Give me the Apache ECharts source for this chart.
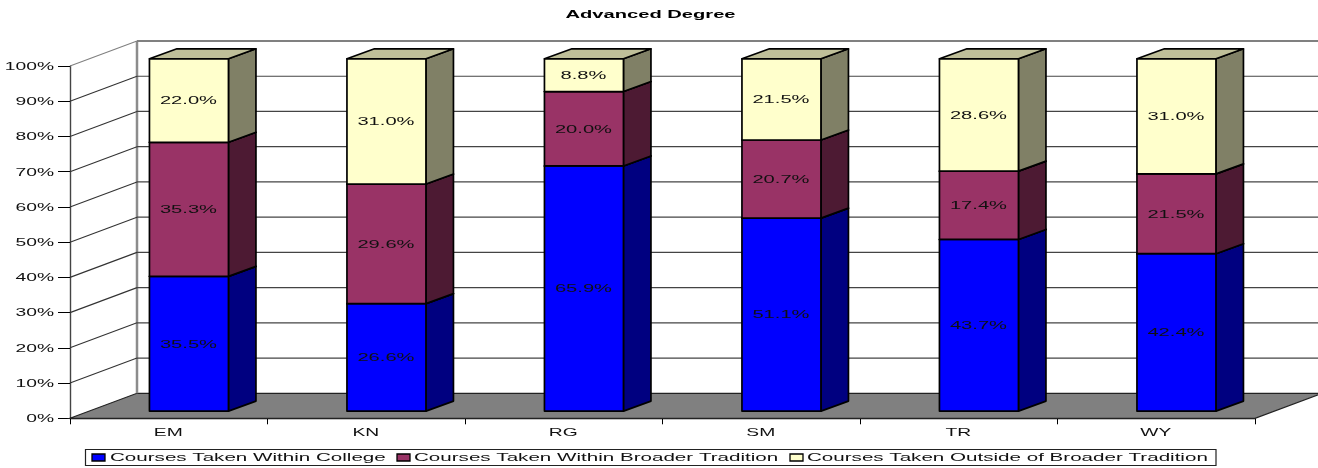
<!DOCTYPE html>
<html>
<head>
<meta charset="utf-8">
<style>html,body{margin:0;padding:0;background:#fff}#c{width:1318px;height:468px}</style>
<script src="https://cdn.jsdelivr.net/npm/echarts@6/dist/echarts.min.js"></script>
</head>
<body>
<div id="c"></div>
<script>
const categories = ['EM', 'KN', 'RG', 'SM', 'TR', 'WY'];
const withinCollege = [35.5, 26.6, 65.9, 51.1, 43.7, 42.4];
const withinBroader = [35.3, 29.6, 20.0, 20.7, 17.4, 21.5];
const outsideBroader = [22.0, 31.0, 8.8, 21.5, 28.6, 31.0];
const seriesNames = ['Courses Taken Within College', 'Courses Taken Within Broader Tradition', 'Courses Taken Outside of Broader Tradition'];
const yTickValues = [0, 10, 20, 30, 40, 50, 60, 70, 80, 90, 100];
const yTickLabels = ['0%', '10%', '20%', '30%', '40%', '50%', '60%', '70%', '80%', '90%', '100%'];
const titleText = 'Advanced Degree';

const FONT = '"Liberation Sans", Arial, sans-serif';
const STRETCH = 1.75;
const DEPTH = [67, -25];
const BAR_FRONT = [20.2, -7.2];
const BAR_SIDE = [27.5, -10];
const BAR_WIDTH = 79;
const LINE = '#000';
const palette = [
  { front: '#0000FF', side: '#000080', top: '#00008C' },
  { front: '#993366', side: '#4D1A33', top: '#6B2447' },
  { front: '#FFFFCC', side: '#808066', top: '#BFBF99' }
];

const allValues = [withinCollege, withinBroader, outsideBroader];
function stackedRows(s) {
  return categories.map((_, i) => {
    const total = allValues.reduce((a, arr) => a + arr[i], 0);
    let start = 0;
    for (let k = 0; k < s; k++) start += allValues[k][i];
    return [i, start / total * 100, (start + allValues[s][i]) / total * 100];
  });
}

function stretchedText(text, x, y, size, align, weight) {
  return {
    type: 'text', x, y, scaleX: STRETCH, silent: true,
    style: {
      text, x: 0, y: 0, align, verticalAlign: 'middle', fill: '#111',
      font: (weight || 'normal') + ' ' + size + 'px ' + FONT
    }
  };
}

function poly(points, fill) {
  return { type: 'polygon', shape: { points }, style: { fill, stroke: LINE, lineWidth: 1.7, lineJoin: 'round' } };
}

function renderBar(s) {
  return function (params, api) {
    const a = api.coord([api.value(0), api.value(1)]);
    const b = api.coord([api.value(0), api.value(2)]);
    const cx = a[0] + BAR_FRONT[0];
    const l = cx - BAR_WIDTH / 2, r = cx + BAR_WIDTH / 2;
    const yb = a[1] + BAR_FRONT[1], yt = b[1] + BAR_FRONT[1];
    const dx = BAR_SIDE[0], dy = BAR_SIDE[1];
    const c = palette[s];
    const children = [
      poly([[r, yb], [r + dx, yb + dy], [r + dx, yt + dy], [r, yt]], c.side),
      poly([[l, yt], [r, yt], [r + dx, yt + dy], [l + dx, yt + dy]], c.top),
      poly([[l, yb], [r, yb], [r, yt], [l, yt]], c.front),
      stretchedText(allValues[s][params.dataIndex].toFixed(1) + '%', cx - 0.5, (yb + yt) / 2 + 0.7, 11.5, 'center')
    ];
    return { type: 'group', children };
  };
}

function renderFloor(params) {
  const g = params.coordSys;
  const x0 = g.x, x1 = g.x + g.width, y = g.y + g.height;
  const top = g.y;
  return {
    type: 'group',
    children: [
      { type: 'polygon', shape: { points: [[x0, y], [x0 + DEPTH[0], y + DEPTH[1]], [x1 + DEPTH[0], y + DEPTH[1]], [x1, y]] },
        style: { fill: '#808080', stroke: '#222', lineWidth: 1.2 } },
      { type: 'line', shape: { x1: x0 + DEPTH[0], y1: y + DEPTH[1], x2: x0 + DEPTH[0], y2: top + DEPTH[1] },
        style: { stroke: '#8c8c8c', lineWidth: 2.5 } }
    ]
  };
}

function renderGridLine(params, api) {
  const v = api.value(0);
  if (v === 0) return null;
  const g = params.coordSys;
  const y = api.coord([0, v])[1];
  const stroke = v === 100 ? '#808080' : '#444';
  const w = v === 100 ? 2.2 : 1.2;
  return {
    type: 'group',
    children: [
      { type: 'line', shape: { x1: g.x + DEPTH[0], y1: y + DEPTH[1], x2: g.x + g.width + DEPTH[0], y2: y + DEPTH[1] }, style: { stroke, lineWidth: w } },
      { type: 'line', shape: { x1: g.x, y1: y, x2: g.x + DEPTH[0], y2: y + DEPTH[1] }, style: { stroke: v === 100 ? '#808080' : '#333', lineWidth: 1.1 } }
    ]
  };
}

function renderYLabel(params, api) {
  const y = api.coord([0, api.value(0)])[1];
  return stretchedText(yTickLabels[params.dataIndex], params.coordSys.x - 16, y + 0.8, 11, 'right');
}
function renderXLabel(params, api) {
  const p = api.coord([api.value(0), 0]);
  return stretchedText(categories[params.dataIndex], p[0] - 0.5, p[1] + 14.3, 11, 'center');
}

const legendSwatchX = [92, 397, 790];
const legendTextX = [110, 414, 807];
const legendStretch = 1.79;
const legendElements = [
  { type: 'rect', shape: { x: 85.5, y: 449.5, width: 1130.5, height: 16 }, style: { fill: '#fff', stroke: '#222', lineWidth: 1.2 } }
];
seriesNames.forEach((name, i) => {
  legendElements.push({ type: 'rect', shape: { x: legendSwatchX[i], y: 454, width: 13, height: 7 }, style: { fill: palette[i].front, stroke: '#000', lineWidth: 1.3 } });
  legendElements.push({ type: 'text', x: legendTextX[i], y: 458, scaleX: legendStretch,
    style: { text: name, x: 0, y: 0, align: 'left', verticalAlign: 'middle', fill: '#111', font: '11.5px ' + FONT } });
});
const titleElement = { type: 'text', x: 650.5, y: 15, scaleX: 1.83,
  style: { text: titleText, x: 0, y: 0, align: 'center', verticalAlign: 'middle', fill: '#000', font: 'bold 11px ' + FONT } };

const chart = echarts.init(document.getElementById('c'));
chart.setOption({
  animation: false,
  backgroundColor: '#fff',
  grid: { left: 70, right: 63, top: 66, bottom: 49.7, containLabel: false },
  xAxis: {
    type: 'category', data: categories, boundaryGap: true,
    axisLine: { show: true, lineStyle: { color: '#000', width: 1.3 } },
    axisTick: { show: true, length: 6, lineStyle: { color: '#000', width: 1 } },
    axisLabel: { show: false }, splitLine: { show: false }
  },
  yAxis: {
    type: 'value', min: 0, max: 100, interval: 10,
    axisLine: { show: true, lineStyle: { color: '#444', width: 1.4 } },
    axisTick: { show: true, length: 12, lineStyle: { color: '#000', width: 1 } },
    axisLabel: { show: false }, splitLine: { show: false }
  },
  graphic: { elements: [titleElement].concat(legendElements) },
  series: [
    { type: 'custom', name: 'floor', coordinateSystem: 'cartesian2d', data: [[0, 0]], renderItem: renderFloor, silent: true, z: 1 },
    { type: 'custom', name: 'gridlines', coordinateSystem: 'cartesian2d', data: yTickValues.map(v => [v]), encode: { y: 0 }, renderItem: renderGridLine, silent: true, z: 1 },
    { type: 'custom', name: 'yLabels', coordinateSystem: 'cartesian2d', data: yTickValues.map(v => [v]), encode: { y: 0 }, renderItem: renderYLabel, silent: true, z: 5 },
    { type: 'custom', name: 'xLabels', coordinateSystem: 'cartesian2d', data: categories.map((_, i) => [i]), encode: { x: 0 }, renderItem: renderXLabel, silent: true, z: 5 },
    { type: 'custom', name: seriesNames[0], coordinateSystem: 'cartesian2d', data: stackedRows(0), encode: { x: 0, y: [1, 2] }, renderItem: renderBar(0), z: 2 },
    { type: 'custom', name: seriesNames[1], coordinateSystem: 'cartesian2d', data: stackedRows(1), encode: { x: 0, y: [1, 2] }, renderItem: renderBar(1), z: 3 },
    { type: 'custom', name: seriesNames[2], coordinateSystem: 'cartesian2d', data: stackedRows(2), encode: { x: 0, y: [1, 2] }, renderItem: renderBar(2), z: 4 }
  ]
});
</script>
</body>
</html>
